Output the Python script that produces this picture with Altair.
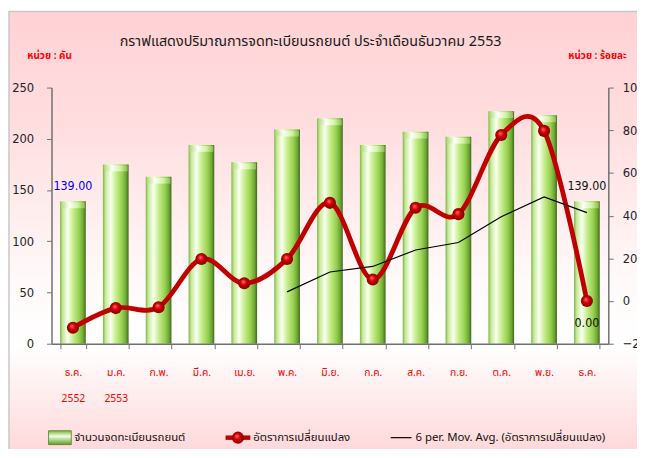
import altair as alt
import pandas as pd

# ---------------- data ----------------
months = ["ธ.ค. 2552", "ม.ค. 2553", "ก.พ.", "มี.ค.", "เม.ย.", "พ.ค.", "มิ.ย.",
          "ก.ค.", "ส.ค.", "ก.ย.", "ต.ค.", "พ.ย.", "ธ.ค."]
registrations = [139, 175, 163, 194, 177, 209, 220, 194, 207, 202, 227, 223, 139]
change_pct = [-12.5, -3.3, -2.9, 19.7, 8.3, 19.7, 46.0, 10.1, 43.7, 40.7, 77.8, 79.7, 0.0]
mov_avg = [None, None, None, None, None, 4.3, 13.6, 16.2, 23.9, 27.4, 39.5, 48.8, 41.4]

title_text = "กราฟแสดงปริมาณการจดทะเบียนรถยนต์  ประจำเดือนธันวาคม  2553"
unit_left = "หน่วย : คัน"
unit_right = "หน่วย : ร้อยละ"
legend_bar = "จำนวนจดทะเบียนรถยนต์"
legend_line = "อัตราการเปลี่ยนแปลง"
legend_ma = "6 per. Mov. Avg. (อัตราการเปลี่ยนแปลง)"

df = pd.DataFrame({"month": months, "reg": registrations, "pct": change_pct,
                   "ma": mov_avg, "idx": list(range(len(months)))})
one = pd.DataFrame({"k": [0]})

# ---------------- layout ----------------
W, H = 563, 259
PL, PT, PR, PB = 44, 78, 29, 104
FONT = "Tahoma, 'Noto Sans Thai', 'DejaVu Sans Condensed', sans-serif"
NUMFONT = "'DejaVu Sans Condensed', 'Liberation Sans Narrow', 'Liberation Sans', sans-serif"

x_enc = alt.X("month:N", sort=months,
              scale=alt.Scale(paddingInner=0.4, paddingOuter=0.2),
              axis=alt.Axis(title=None, labelAngle=0, labelColor="#FF0000",
                            labelFont=FONT, labelFontSize=10.5,
                            labelExpr="split(datum.label, ' ')",
                            labelLineHeight=26, labelPadding=19,
                            tickBand="extent", tickSize=5, tickColor="#707070",
                            domainColor="#707070", domainWidth=1.5, zindex=2))

y_left = alt.Scale(domain=[0, 250], nice=False)
y_right = alt.Scale(domain=[-20, 100], nice=False)

bg = alt.Chart(one).mark_rect(
    fill=alt.Gradient(gradient="linear", x1=0, y1=0, x2=0, y2=1, stops=[
        alt.GradientStop(offset=0, color="#FFD2D5"),
        alt.GradientStop(offset=0.25, color="#FFDDDF"),
        alt.GradientStop(offset=0.6, color="#FFF9F9"),
        alt.GradientStop(offset=0.75, color="#FFFFFF"),
        alt.GradientStop(offset=1, color="#FFD6D8")]),
    stroke="#C8C8C8", strokeWidth=1.5
).encode(x=alt.value(-PL + 1), x2=alt.value(W + PR + 20),
         y=alt.value(-PT + 1), y2=alt.value(H + PB + 10))

bar_fill = alt.Gradient(gradient="linear", x1=0, y1=0, x2=1, y2=0, stops=[
    alt.GradientStop(offset=0, color="#7FB446"),
    alt.GradientStop(offset=0.1, color="#C4EA94"),
    alt.GradientStop(offset=0.3, color="#FAFFF2"),
    alt.GradientStop(offset=0.5, color="#C8EE90"),
    alt.GradientStop(offset=0.75, color="#96D04E"),
    alt.GradientStop(offset=0.9, color="#6DA633"),
    alt.GradientStop(offset=1, color="#3E6918")])
cap_fill = alt.Gradient(gradient="linear", x1=0, y1=0, x2=1, y2=0, stops=[
    alt.GradientStop(offset=0, color="#A9DA6E"),
    alt.GradientStop(offset=0.35, color="#FFFFFF"),
    alt.GradientStop(offset=0.7, color="#D8F5B0"),
    alt.GradientStop(offset=1, color="#8CC24E")])

bars = alt.Chart(df).mark_bar(fill=bar_fill).encode(
    x=x_enc,
    y=alt.Y("reg:Q", scale=y_left,
            axis=alt.Axis(title=None, orient="left", values=[0, 50, 100, 150, 200, 250],
                          grid=False, tickSize=5, labelPadding=13,
                          labelFont=NUMFONT, labelFontSize=13, labelColor="#222222",
                          tickColor="#707070", domainColor="#707070", domainWidth=1.5,
                          zindex=2)))
caps = alt.Chart(df).mark_tick(thickness=6, size=24, fill=cap_fill, opacity=0.9,
                               yOffset=4).encode(
    x=x_enc, y=alt.Y("reg:Q", scale=y_left))

bar_lbl_first = alt.Chart(df).transform_filter("datum.idx == 0").mark_text(
    dy=-15, font=NUMFONT, fontSize=12.5, color="#0000FF").encode(
    x=x_enc, y=alt.Y("reg:Q", scale=y_left), text=alt.Text("reg:Q", format=".2f"))
bar_lbl_last = alt.Chart(df).transform_filter("datum.idx == 12").mark_text(
    dy=-15, font=NUMFONT, fontSize=12.5, color="#111111").encode(
    x=x_enc, y=alt.Y("reg:Q", scale=y_left), text=alt.Text("reg:Q", format=".2f"))

left_layer = alt.layer(bars, caps, bar_lbl_first, bar_lbl_last)

y_r = alt.Y("pct:Q", scale=y_right,
            axis=alt.Axis(title=None, orient="right", values=[-20, 0, 20, 40, 60, 80, 100],
                          grid=False, tickSize=5, labelPadding=9,
                          labelFont=NUMFONT, labelFontSize=13, labelColor="#222222",
                          tickColor="#707070", domainColor="#707070", domainWidth=1.5,
                          zindex=2))

ma_line = alt.Chart(df).transform_filter("isValid(datum.ma)").mark_line(
    color="#000000", strokeWidth=1.2).encode(
    x=x_enc, y=alt.Y("ma:Q", scale=y_right))
red_line = alt.Chart(df).mark_line(color="#C00000", strokeWidth=4.8,
                                   interpolate="cardinal").encode(x=x_enc, y=y_r)
dot_fill = alt.Gradient(gradient="radial", x1=0.4, y1=0.35, r1=0, x2=0.5, y2=0.5, r2=0.55, stops=[
    alt.GradientStop(offset=0, color="#FF7070"),
    alt.GradientStop(offset=0.45, color="#D00000"),
    alt.GradientStop(offset=1, color="#7A0000")])
dots = alt.Chart(df).mark_point(filled=True, shape="circle", size=150, opacity=1,
                                fill=dot_fill, strokeWidth=0).encode(
    x=x_enc, y=alt.Y("pct:Q", scale=y_right))
pct_lbl = alt.Chart(df).transform_filter("datum.idx == 12").mark_text(
    dy=22, font=NUMFONT, fontSize=12.5, color="#111111").encode(
    x=x_enc, y=alt.Y("pct:Q", scale=y_right), text=alt.Text("pct:Q", format=".2f"))

right_layer = alt.layer(red_line, ma_line, dots, pct_lbl)

# ---------------- titles ----------------
title = alt.Chart(one).mark_text(font=FONT, fontSize=14.5, color="#1A1A1A").encode(
    x=alt.value(262), y=alt.value(-46), text=alt.value(title_text))
ul = alt.Chart(one).mark_text(font=FONT, fontSize=10, fontWeight="bold", color="#FF0000").encode(
    x=alt.value(-2), y=alt.value(-32), text=alt.value(unit_left))
ur = alt.Chart(one).mark_text(font=FONT, fontSize=10, fontWeight="bold", color="#FF0000").encode(
    x=alt.value(552), y=alt.value(-32), text=alt.value(unit_right))

# ---------------- legend ----------------
LY = 354
sw = alt.Chart(one).mark_rect(fill=alt.Gradient(gradient="linear", x1=0, y1=0, x2=0, y2=1, stops=[
    alt.GradientStop(offset=0, color="#7FB446"),
    alt.GradientStop(offset=0.4, color="#F0FFE0"),
    alt.GradientStop(offset=1, color="#5E9A2A")]), stroke="#4E7F1E", strokeWidth=0.8).encode(
    x=alt.value(-3), x2=alt.value(20), y=alt.value(LY - 7), y2=alt.value(LY + 7))
t1 = alt.Chart(one).mark_text(font=FONT, fontSize=11.5, align="left", color="#111111").encode(
    x=alt.value(23), y=alt.value(LY), text=alt.value(legend_bar))
lg_line = alt.Chart(one).mark_rule(color="#C00000", strokeWidth=4.5).encode(
    x=alt.value(176), x2=alt.value(201), y=alt.value(LY))
lg_dot = alt.Chart(one).mark_point(filled=True, shape="circle", size=150, opacity=1,
                                   fill=dot_fill, strokeWidth=0).encode(
    x=alt.value(188.5), y=alt.value(LY))
t2 = alt.Chart(one).mark_text(font=FONT, fontSize=11.5, align="left", color="#111111").encode(
    x=alt.value(204), y=alt.value(LY), text=alt.value(legend_line))
lg_ma = alt.Chart(one).mark_rule(color="#000000", strokeWidth=1.2).encode(
    x=alt.value(343), x2=alt.value(364), y=alt.value(LY))
t3 = alt.Chart(one).mark_text(font=FONT, fontSize=11.5, align="left", color="#111111").encode(
    x=alt.value(368), y=alt.value(LY), text=alt.value(legend_ma))

chart = alt.layer(
    bg, left_layer, right_layer, title, ul, ur, sw, t1, lg_line, lg_dot, t2, lg_ma, t3
).resolve_scale(y="independent").properties(
    width=W, height=H,
    padding={"left": PL, "top": PT, "right": PR, "bottom": PB},
    autosize=alt.AutoSizeParams(type="none"),
    background="white"
).configure_view(stroke=None)

chart.save("out.html", embed_options={"renderer": "svg", "actions": False})
